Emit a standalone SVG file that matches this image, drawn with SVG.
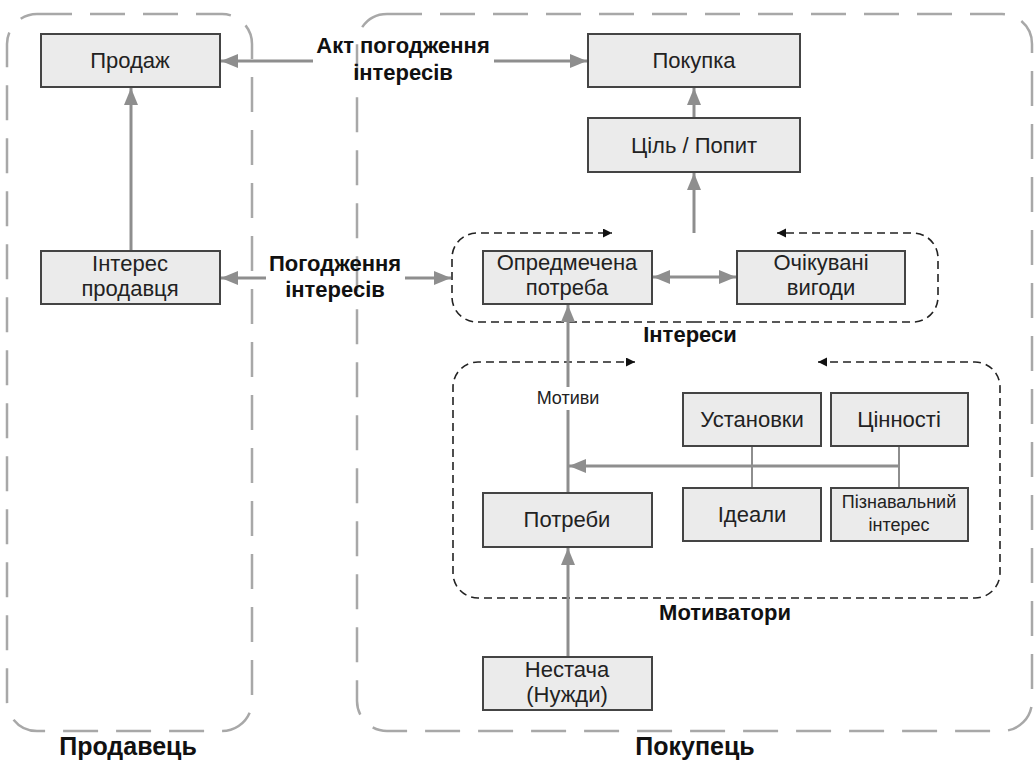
<svg xmlns="http://www.w3.org/2000/svg" width="1034" height="760" viewBox="0 0 1034 760">
<style>
.cont{fill:none;stroke:#a8a8a8;stroke-width:2.5;stroke-dasharray:35 18}
.grp{fill:none;stroke:#222;stroke-width:1.6;stroke-dasharray:8 5}
.box{fill:#ebebeb;stroke:#444;stroke-width:2}
.t{font-family:"Liberation Sans",Arial,sans-serif;font-size:22px;fill:#222;text-anchor:middle}
.ts{font-size:18px}
.tm{font-size:18px}
.b{font-family:"Liberation Sans",Arial,sans-serif;font-weight:bold;font-size:22px;fill:#111;text-anchor:middle}
.big{font-size:25px}
.c{fill:none;stroke:#8e8e8e;stroke-width:3}
.thin{fill:none;stroke:#8e8e8e;stroke-width:2}
</style>
<defs>
<marker id="ga" markerUnits="userSpaceOnUse" markerWidth="18" markerHeight="14" refX="17" refY="7" orient="auto-start-reverse"><path d="M0,0 L17,7 L0,14 z" fill="#8e8e8e"/></marker>
<marker id="ba" markerUnits="userSpaceOnUse" markerWidth="10" markerHeight="10" refX="9" refY="4.5" orient="auto"><path d="M0,0 L9,4.5 L0,9 z" fill="#111"/></marker>
</defs>

<g id="seller-container">
<rect class="cont" x="7" y="14" width="245" height="717" rx="30"/>
<text class="b big" x="128" y="755">Продавець</text>
</g>
<g id="buyer-container">
<rect class="cont" x="357" y="14" width="675" height="717" rx="30"/>
<text class="b big" x="695" y="755">Покупець</text>
</g>

<g id="interests-group">
<path class="grp" d="M694,322 H477 A25,25 0 0 1 452,297 V258 A25,25 0 0 1 477,233 H612" marker-end="url(#ba)"/>
<path class="grp" d="M694,322 H913 A25,25 0 0 0 938,297 V258 A25,25 0 0 0 913,233 H777" marker-end="url(#ba)"/>
<text class="b" x="690" y="342">Інтереси</text>
</g>
<g id="motivators-group">
<path class="grp" d="M726,598 H478 A25,25 0 0 1 453,573 V387 A25,25 0 0 1 478,362 H635" marker-end="url(#ba)"/>
<path class="grp" d="M726,598 H975 A25,25 0 0 0 1000,573 V387 A25,25 0 0 0 975,362 H818" marker-end="url(#ba)"/>
<text class="b" x="725" y="620">Мотиватори</text>
</g>

<g id="connectors">
<line class="c" x1="131" y1="251" x2="131" y2="88" marker-end="url(#ga)"/>
<line class="c" x1="694" y1="118" x2="694" y2="88" marker-end="url(#ga)"/>
<line class="c" x1="694" y1="233" x2="694" y2="173" marker-end="url(#ga)"/>
<line class="c" x1="313" y1="61" x2="221" y2="61" marker-end="url(#ga)"/>
<line class="c" x1="494" y1="61" x2="587" y2="61" marker-end="url(#ga)"/>
<line class="c" x1="266" y1="278" x2="221" y2="278" marker-end="url(#ga)"/>
<line class="c" x1="405" y1="278" x2="451" y2="278" marker-end="url(#ga)"/>
<line class="c" x1="653" y1="277" x2="736" y2="277" marker-start="url(#ga)" marker-end="url(#ga)"/>
<line class="c" x1="568" y1="493" x2="568" y2="305" marker-end="url(#ga)"/>
<line class="c" x1="568" y1="657" x2="568" y2="548" marker-end="url(#ga)"/>
<line class="thin" x1="752" y1="446" x2="752" y2="488"/>
<line class="thin" x1="899" y1="446" x2="899" y2="488"/>
<line class="c" x1="899" y1="466" x2="569" y2="466" marker-end="url(#ga)"/>
<rect x="531" y="387" width="74" height="23" fill="#fff"/>
<text class="t tm" x="568" y="404">Мотиви</text>
<text class="b" x="403" y="53">Акт погодження</text>
<text class="b" x="403" y="80">інтересів</text>
<text class="b" x="335" y="271">Погодження</text>
<text class="b" x="335" y="297">інтересів</text>
</g>

<g id="prodazh"><rect class="box" x="41" y="34" width="179" height="53"/><text class="t" x="130" y="68">Продаж</text></g>
<g id="interes-prodavtsia"><rect class="box" x="41" y="251" width="179" height="53"/><text class="t" x="130" y="271">Інтерес</text><text class="t" x="130" y="296">продавця</text></g>
<g id="pokupka"><rect class="box" x="588" y="34" width="212" height="53"/><text class="t" x="694" y="68">Покупка</text></g>
<g id="tsil-popyt"><rect class="box" x="588" y="118" width="212" height="54"/><text class="t" x="694" y="153">Ціль / Попит</text></g>
<g id="opredmechena"><rect class="box" x="483" y="251" width="169" height="53"/><text class="t" x="567" y="270">Опредмечена</text><text class="t" x="567" y="295">потреба</text></g>
<g id="ochikuvani"><rect class="box" x="737" y="251" width="168" height="53"/><text class="t" x="821" y="270">Очікувані</text><text class="t" x="821" y="295">вигоди</text></g>
<g id="ustanovky"><rect class="box" x="683" y="393" width="138" height="53"/><text class="t" x="752" y="427">Установки</text></g>
<g id="tsinnosti"><rect class="box" x="831" y="393" width="137" height="53"/><text class="t" x="899" y="427">Цінності</text></g>
<g id="idealy"><rect class="box" x="683" y="488" width="138" height="53"/><text class="t" x="752" y="522">Ідеали</text></g>
<g id="piznavalnyi"><rect class="box" x="831" y="488" width="137" height="53"/><text class="t ts" x="899" y="508">Пізнавальний</text><text class="t ts" x="899" y="531">інтерес</text></g>
<g id="potreby"><rect class="box" x="483" y="493" width="169" height="54"/><text class="t" x="567" y="527">Потреби</text></g>
<g id="nestacha"><rect class="box" x="483" y="657" width="169" height="53"/><text class="t" x="567" y="677">Нестача</text><text class="t" x="567" y="702">(Нужди)</text></g>
</svg>
